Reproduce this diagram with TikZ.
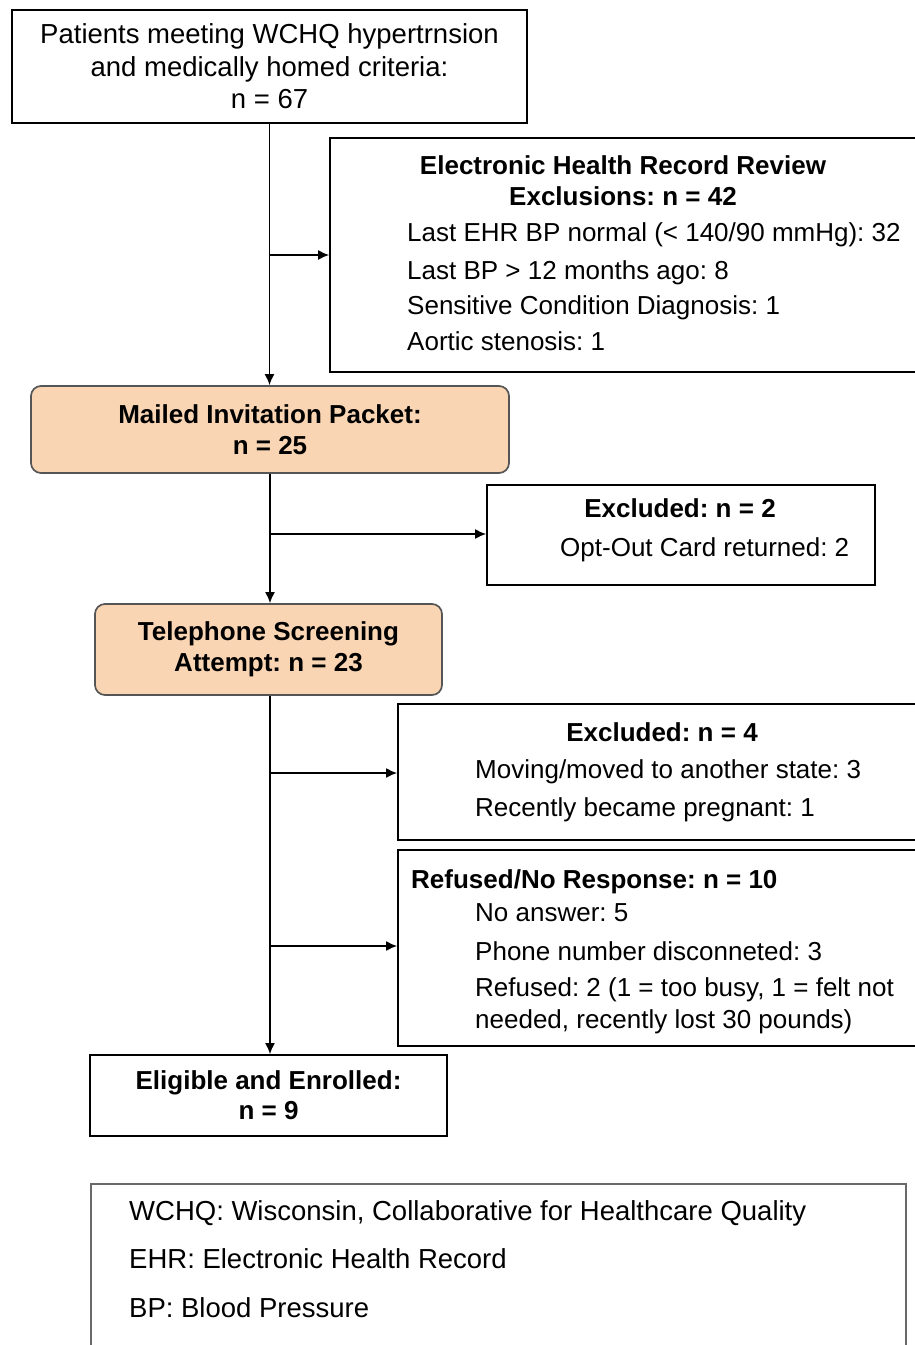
\documentclass[tikz,border=0pt]{standalone}
\usepackage{fontspec}
\setmainfont{Liberation Sans}
\usepackage{tikz}
\usetikzlibrary{arrows.meta}
\definecolor{peach}{RGB}{249,213,179}
\definecolor{peachline}{RGB}{85,85,85}
\definecolor{legendline}{RGB}{105,105,105}
\frenchspacing

\begin{document}
\begin{tikzpicture}[x=1pt,y=-1pt,
  box/.style={draw,line width=1.7pt,rectangle,inner sep=0pt,align=center,font=\fontsize{26}{32}\selectfont},
  stage/.style={box,fill=peach,draw=peachline,rounded corners=10pt,font=\fontsize{26}{31}\selectfont\bfseries},
  txt/.style={inner sep=0pt,text height=19pt,text depth=0pt,font=\fontsize{26}{31}\selectfont},
  head/.style={txt,font=\fontsize{26}{31}\selectfont\bfseries},
  arr/.style={line width=1.7pt,-{Latex[length=11pt,width=10pt]}}]
\useasboundingbox (0,0) rectangle (915,1345);

% flow boxes
\node[box,font=\fontsize{27.5}{32.5}\selectfont,minimum width=515pt,minimum height=113pt] (top) at (269.5,66.5)
  {\raisebox{-2pt}{Patients meeting WCHQ hypertrnsion}\\\raisebox{-2pt}{and medically homed criteria:}\\\raisebox{-2pt}{n = 67}};
\node[box,minimum width=587pt,minimum height=234pt] (ehr) at (623.5,255) {};
\node[stage,minimum width=478pt,minimum height=87pt] (mailed) at (270,429.5)
  {Mailed Invitation Packet:\\n = 25};
\node[box,minimum width=388pt,minimum height=100pt] (optout) at (681,535) {};
\node[stage,minimum width=347pt,minimum height=91pt] (phone) at (268.5,649.5)
  {Telephone Screening\\Attempt: n = 23};
\node[box,minimum width=519pt,minimum height=136pt] (moved) at (657.5,772) {};
\node[box,minimum width=519pt,minimum height=196pt] (refused) at (657.5,948) {};
\node[box,font=\fontsize{26}{30}\selectfont\bfseries,minimum width=357pt,minimum height=81pt] (enrolled) at (268.5,1095.5)
  {Eligible and Enrolled:\\n = 9};
\node[box,draw=legendline,line width=1.2pt,minimum width=815pt,minimum height=166pt] (legend) at (498.5,1267) {};

% box texts
\node[head] (ehrA) at (623,165) {Electronic Health Record Review};
\node[head] (ehrB) at (623,196) {Exclusions: n = 42};
\node[txt,anchor=west] (ehr1) at (407,232) {Last EHR BP normal (< 140/90 mmHg): 32};
\node[txt,anchor=west] (ehr2) at (407,270) {Last BP > 12 months ago: 8};
\node[txt,anchor=west] (ehr3) at (407,305) {Sensitive Condition Diagnosis: 1};
\node[txt,anchor=west] (ehr4) at (407,341) {Aortic stenosis: 1};

\node[head] (optA) at (680,508) {Excluded: n = 2};
\node[txt,anchor=west] (opt1) at (560,547) {Opt-Out Card returned: 2};

\node[head] (movA) at (662,732) {Excluded: n = 4};
\node[txt,anchor=west] (mov1) at (475,769) {Moving/moved to another state: 3};
\node[txt,anchor=west] (mov2) at (475,807) {Recently became pregnant: 1};

\node[head,anchor=west] (refA) at (411,879) {Refused/No Response: n = 10};
\node[txt,anchor=west] (ref1) at (475,912) {No answer: 5};
\node[txt,anchor=west] (ref2) at (475,951) {Phone number disconneted: 3};
\node[txt,anchor=west] (ref3) at (475,987) {Refused: 2 (1 = too busy, 1 = felt not};
\node[txt,anchor=west] (ref4) at (475,1019) {needed, recently lost 30 pounds)};

\node[txt,font=\fontsize{27.5}{31}\selectfont,anchor=west] (leg1) at (129,1211) {WCHQ: Wisconsin, Collaborative for Healthcare Quality};
\node[txt,font=\fontsize{27.5}{31}\selectfont,anchor=west] (leg2) at (129,1259) {EHR: Electronic Health Record};
\node[txt,font=\fontsize{27.5}{31}\selectfont,anchor=west] (leg3) at (129,1308) {BP: Blood Pressure};

% main line
\draw[arr] (top.south) -- (top.south |- mailed.north);
\draw[arr] (mailed.south) -- (mailed.south |- phone.north);
\draw[arr] (phone.south -| mailed.south) -- (mailed.south |- enrolled.north);

% side branches
\coordinate (j1) at (270,255);
\coordinate (j2) at (270,534);
\coordinate (j3) at (270,773);
\coordinate (j4) at (270,946);
\draw[arr] (j1) -- (j1 -| ehr.west);
\draw[arr] (j2) -- (j2 -| optout.west);
\draw[arr] (j3) -- (j3 -| moved.west);
\draw[arr] (j4) -- (j4 -| refused.west);
\end{tikzpicture}
\end{document}
